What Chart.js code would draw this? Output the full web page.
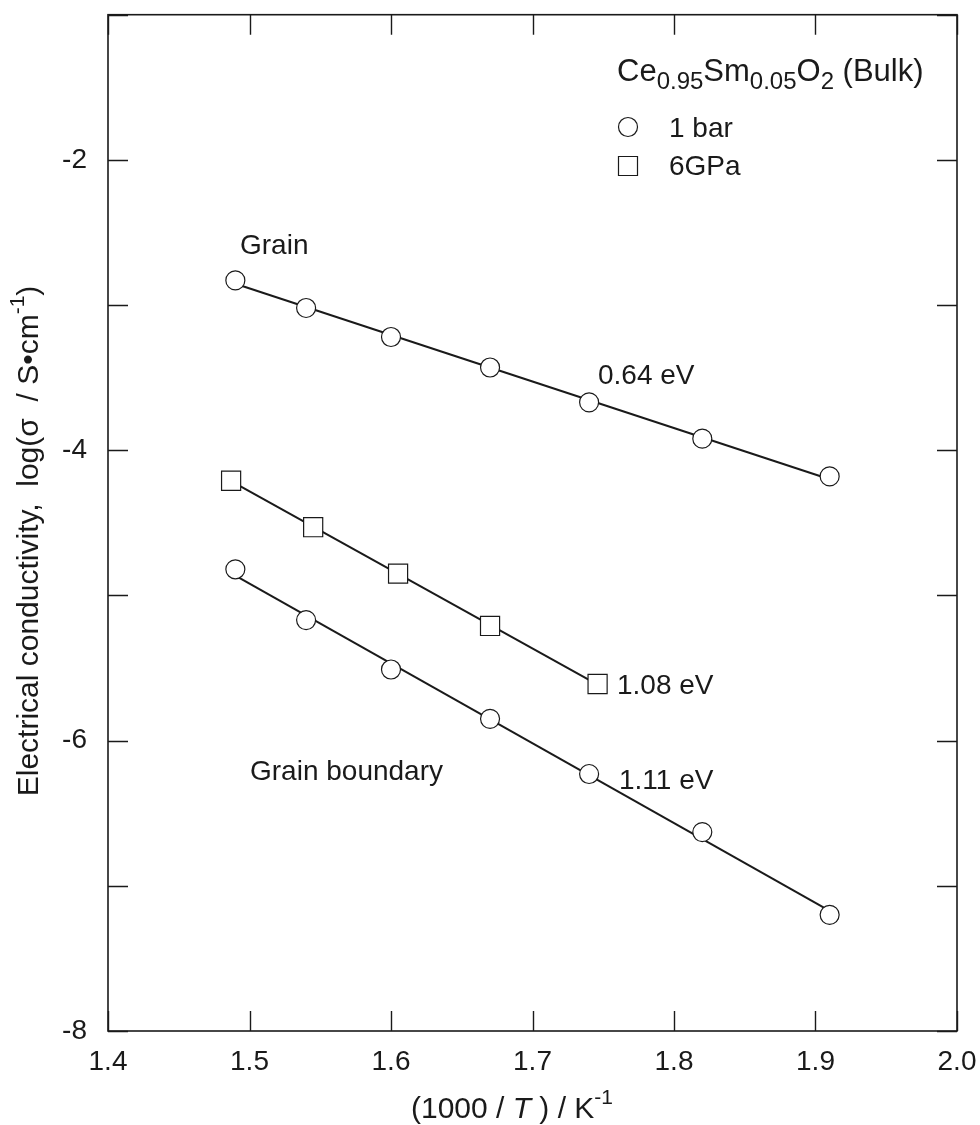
<!DOCTYPE html>
<html><head><meta charset="utf-8">
<script src="https://cdn.jsdelivr.net/npm/chart.js@4.4.0/dist/chart.umd.min.js"></script>
<style>html,body{margin:0;padding:0;background:#fff}canvas{display:block}</style>
</head><body>
<canvas id="c" width="980" height="1125"></canvas>
<script>
// ---- data ----
const xGrain = [1.49, 1.54, 1.60, 1.67, 1.74, 1.82, 1.91];
const yGrain = [-2.83, -3.02, -3.22, -3.43, -3.67, -3.92, -4.18];
const xBoundary = [1.49, 1.54, 1.60, 1.67, 1.74, 1.82, 1.91];
const yBoundary = [-4.82, -5.17, -5.51, -5.85, -6.23, -6.63, -7.20];
const x6GPa = [1.487, 1.545, 1.605, 1.670, 1.746];
const y6GPa = [-4.21, -4.53, -4.85, -5.21, -5.61];
const xTickLabels = ['1.4', '1.5', '1.6', '1.7', '1.8', '1.9', '2.0'];
const yTickLabels = ['-8', '-6', '-4', '-2'];

const FONT = '"Liberation Sans", Arial, Helvetica, sans-serif';
const INK = '#1a1a1a';

function pts(xs, ys) { return xs.map((x, i) => ({x, y: ys[i]})); }
function fitLine(xs, ys) {
  const n = xs.length;
  const mx = xs.reduce((a, b) => a + b, 0) / n;
  const my = ys.reduce((a, b) => a + b, 0) / n;
  let sxy = 0, sxx = 0;
  for (let i = 0; i < n; i++) { sxy += (xs[i] - mx) * (ys[i] - my); sxx += (xs[i] - mx) ** 2; }
  const b = sxy / sxx, a = my - b * mx;
  const x0 = Math.min(...xs), x1 = Math.max(...xs);
  return [{x: x0, y: a + b * x0}, {x: x1, y: a + b * x1}];
}

function richWidth(ctx, segs) {
  let w = 0;
  for (const s of segs) { ctx.font = (s.italic ? 'italic ' : '') + s.size + 'px ' + FONT; w += ctx.measureText(s.t).width; }
  return w;
}
function drawRich(ctx, segs, x, y, align) {
  let cx = x;
  if (align === 'center') cx = x - richWidth(ctx, segs) / 2;
  ctx.textBaseline = 'alphabetic';
  ctx.textAlign = 'left';
  for (const s of segs) {
    ctx.font = (s.italic ? 'italic ' : '') + s.size + 'px ' + FONT;
    ctx.fillText(s.t, cx, y + (s.dy || 0));
    cx += ctx.measureText(s.t).width;
  }
}

const decor = {
  id: 'decor',
  afterDraw(chart) {
    const {ctx, chartArea: {left, right, top, bottom}, scales: {x, y}} = chart;
    ctx.save();
    ctx.strokeStyle = INK;
    ctx.lineWidth = 1.6;
    ctx.strokeRect(left, top, right - left, bottom - top);
    const TL = 20;
    ctx.lineWidth = 1.4;
    ctx.beginPath();
    x.ticks.forEach(t => {
      const px = Math.round(x.getPixelForValue(t.value)) + 0.5;
      ctx.moveTo(px, bottom); ctx.lineTo(px, bottom - TL);
      ctx.moveTo(px, top); ctx.lineTo(px, top + TL);
    });
    y.ticks.forEach(t => {
      const py = Math.round(y.getPixelForValue(t.value)) + 0.5;
      ctx.moveTo(left, py); ctx.lineTo(left + TL, py);
      ctx.moveTo(right, py); ctx.lineTo(right - TL, py);
    });
    ctx.stroke();

    ctx.fillStyle = INK;
    const F = 28, T = 30, S = 21;
    // x-axis title
    drawRich(ctx, [
      {t: '(1000 / ', size: T}, {t: 'T', size: T, italic: true}, {t: ' ) / K', size: T},
      {t: '-1', size: S, dy: -14}
    ], 512, 1118, 'center');
    // y-axis title
    ctx.save();
    ctx.translate(38, 541);
    ctx.rotate(-Math.PI / 2);
    drawRich(ctx, [
      {t: 'Electrical conductivity,  log(σ  / S•cm', size: T},
      {t: '-1', size: S, dy: -14}, {t: ')', size: T}
    ], 0, 0, 'center');
    ctx.restore();

    // legend
    drawRich(ctx, [
      {t: 'Ce', size: 31}, {t: '0.95', size: 24, dy: 8}, {t: 'Sm', size: 31},
      {t: '0.05', size: 24, dy: 8}, {t: 'O', size: 31}, {t: '2', size: 24, dy: 8},
      {t: ' (Bulk)', size: 31}
    ], 617, 81, 'left');
    ctx.lineWidth = 1.2;
    ctx.strokeStyle = INK;
    ctx.fillStyle = '#fff';
    ctx.beginPath(); ctx.arc(628, 127, 9.5, 0, Math.PI * 2); ctx.fill(); ctx.stroke();
    ctx.beginPath(); ctx.rect(618.5, 156.5, 19, 19); ctx.fill(); ctx.stroke();
    ctx.fillStyle = INK;
    drawRich(ctx, [{t: '1 bar', size: F}], 669, 137, 'left');
    drawRich(ctx, [{t: '6GPa', size: F}], 669, 175, 'left');

    // annotations
    drawRich(ctx, [{t: 'Grain', size: F}], 240, 254, 'left');
    drawRich(ctx, [{t: '0.64 eV', size: F}], 598, 384, 'left');
    drawRich(ctx, [{t: '1.08 eV', size: F}], 617, 694, 'left');
    drawRich(ctx, [{t: 'Grain boundary', size: F}], 250, 780, 'left');
    drawRich(ctx, [{t: '1.11 eV', size: F}], 619, 789, 'left');
    ctx.restore();
  }
};

const pointStyleCommon = {
  showLine: false,
  backgroundColor: '#ffffff',
  borderColor: INK,
  borderWidth: 1.2,
  order: 0
};
const lineCommon = {
  showLine: true,
  pointRadius: 0,
  borderColor: INK,
  borderWidth: 2,
  fill: false,
  order: 1
};

new Chart(document.getElementById('c'), {
  type: 'scatter',
  data: {
    datasets: [
      {...lineCommon, label: 'Grain fit', data: fitLine(xGrain, yGrain)},
      {...lineCommon, label: '6GPa fit', data: fitLine(x6GPa, y6GPa)},
      {...lineCommon, label: 'Boundary fit', data: fitLine(xBoundary, yBoundary)},
      {...pointStyleCommon, label: 'Grain 1 bar', data: pts(xGrain, yGrain), pointStyle: 'circle', pointRadius: 9.5},
      {...pointStyleCommon, label: 'Grain boundary 1 bar', data: pts(xBoundary, yBoundary), pointStyle: 'circle', pointRadius: 9.5},
      {...pointStyleCommon, label: '6GPa', data: pts(x6GPa, y6GPa), pointStyle: 'rect', pointRadius: 13.5}
    ]
  },
  options: {
    responsive: false,
    animation: false,
    devicePixelRatio: 1,
    layout: {padding: {left: 0, top: 13, right: 23, bottom: 0}},
    plugins: {legend: {display: false}, tooltip: {enabled: false}},
    scales: {
      x: {
        type: 'linear', min: 1.4, max: 2.0,
        grid: {display: false}, border: {display: false},
        ticks: {
          stepSize: 0.1, padding: 6, color: INK, maxRotation: 0, autoSkip: false,
          font: {family: FONT, size: 28},
          callback: (v) => {
            const lbl = v.toFixed(1);
            return xTickLabels.includes(lbl) ? lbl : '';
          }
        },
        afterFit: (s) => { s.height = 94; s.paddingLeft = 0; s.paddingRight = 0; }
      },
      y: {
        type: 'linear', min: -8, max: -1,
        grid: {display: false}, border: {display: false},
        ticks: {
          stepSize: 1, padding: 13, color: INK, autoSkip: false,
          font: {family: FONT, size: 28},
          callback: (v) => {
            const lbl = String(Math.round(v));
            return yTickLabels.includes(lbl) ? lbl : '';
          }
        },
        afterFit: (s) => { s.width = 108; s.paddingTop = 0; s.paddingBottom = 0; }
      }
    }
  },
  plugins: [decor]
});
</script>
</body></html>
